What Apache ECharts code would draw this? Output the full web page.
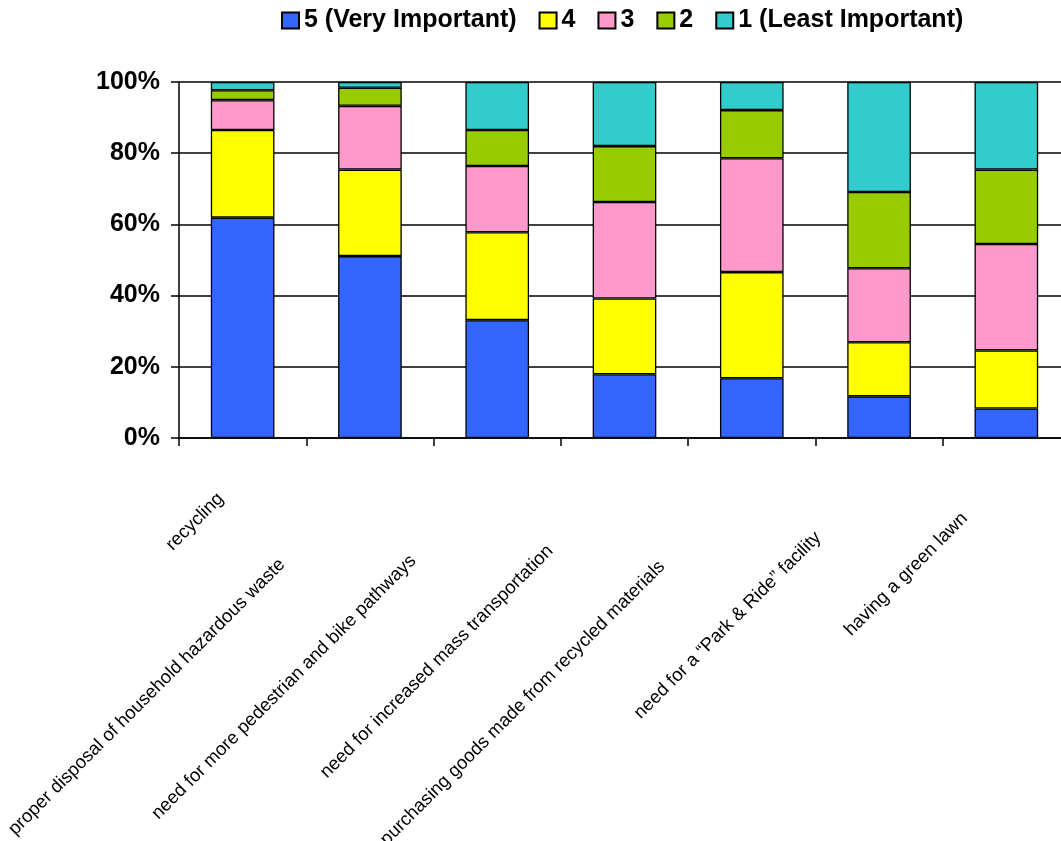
<!DOCTYPE html>
<html><head><meta charset="utf-8">
<script src="https://cdn.jsdelivr.net/npm/echarts@6/dist/echarts.min.js"></script>
<style>html,body{margin:0;padding:0;background:#fff}#c{width:1061px;height:841px}</style>
</head><body><div id="c"></div>
<script>
const categories = [
  'recycling',
  'proper disposal of household hazardous waste',
  'need for more pedestrian and bike pathways',
  'need for increased mass transportation',
  'purchasing goods made from recycled materials',
  'need for a \u201cPark & Ride\u201d facility',
  'having a green lawn'
];
const seriesNames = ['5 (Very Important)', '4', '3', '2', '1 (Least Important)'];
const rating5 = [61.9, 51.1, 33.1, 17.9, 16.8, 11.7, 8.3];
const rating4 = [24.6, 24.3, 24.7, 21.3, 29.8, 15.2, 16.3];
const rating3 = [8.4, 17.9, 18.6, 27.1, 32.0, 20.8, 29.9];
const rating2 = [2.8, 5.1, 10.1, 15.7, 13.5, 21.4, 20.9];
const rating1 = [2.3, 1.6, 13.5, 18.0, 7.9, 30.9, 24.6];
const yTicks = [0, 20, 40, 60, 80, 100];

const seriesValues = [rating5, rating4, rating3, rating2, rating1];
const colors = ['#3366FF', '#FFFF00', '#FF99CC', '#99CC00', '#33CCCC'];

const labelFamily = '"Liberation Sans", Arial, sans-serif';
const labelSize = 18.5;
const ctx = document.createElement('canvas').getContext('2d');
ctx.font = labelSize + 'px ' + labelFamily;
const xData = categories.map(c => ({
  value: c,
  textStyle: { padding: [0, Math.round(ctx.measureText(c).width * 0.3 + 9), 0, 0] }
}));

const chart = echarts.init(document.getElementById('c'), null, { renderer: 'canvas' });
chart.setOption({
  animation: false,
  backgroundColor: '#fff',
  legend: {
    left: 281, top: 8, icon: 'rect', padding: 0,
    itemWidth: 17, itemHeight: 16, itemGap: 22,
    textStyle: { fontFamily: '"Liberation Sans", Arial, sans-serif', fontWeight: 'bold', fontSize: 25, color: '#000' },
    data: seriesNames
  },
  grid: { left: 179, top: 82, width: 891, height: 356, containLabel: false, outerBoundsMode: 'none' },
  xAxis: {
    type: 'category',
    data: xData,
    boundaryGap: true,
    axisLine: { lineStyle: { color: '#000', width: 1.5 } },
    axisTick: { show: true, length: 8, lineStyle: { color: '#000', width: 1.5 } },
    axisLabel: {
      interval: 0, rotate: 45, margin: 36, hideOverlap: false,
      fontFamily: labelFamily, fontSize: labelSize, color: '#000'
    }
  },
  yAxis: {
    type: 'value', min: yTicks[0], max: yTicks[yTicks.length - 1], interval: 20,
    axisLine: { show: true, lineStyle: { color: '#000', width: 1.5 } },
    axisTick: { show: true, length: 8, lineStyle: { color: '#000', width: 1.5 } },
    splitLine: { show: true, lineStyle: { color: '#000', width: 1.5 } },
    axisLabel: {
      formatter: '{value}%', margin: 19,
      fontFamily: '"Liberation Sans", Arial, sans-serif', fontWeight: 'bold', fontSize: 25, color: '#000'
    }
  },
  series: seriesNames.map((name, i) => ({
    name: name,
    type: 'bar',
    stack: 'total',
    barWidth: '50%',
    data: seriesValues[i],
    itemStyle: { color: colors[i], borderColor: '#000', borderWidth: 1.3 }
  }))
});
</script>
</body></html>
